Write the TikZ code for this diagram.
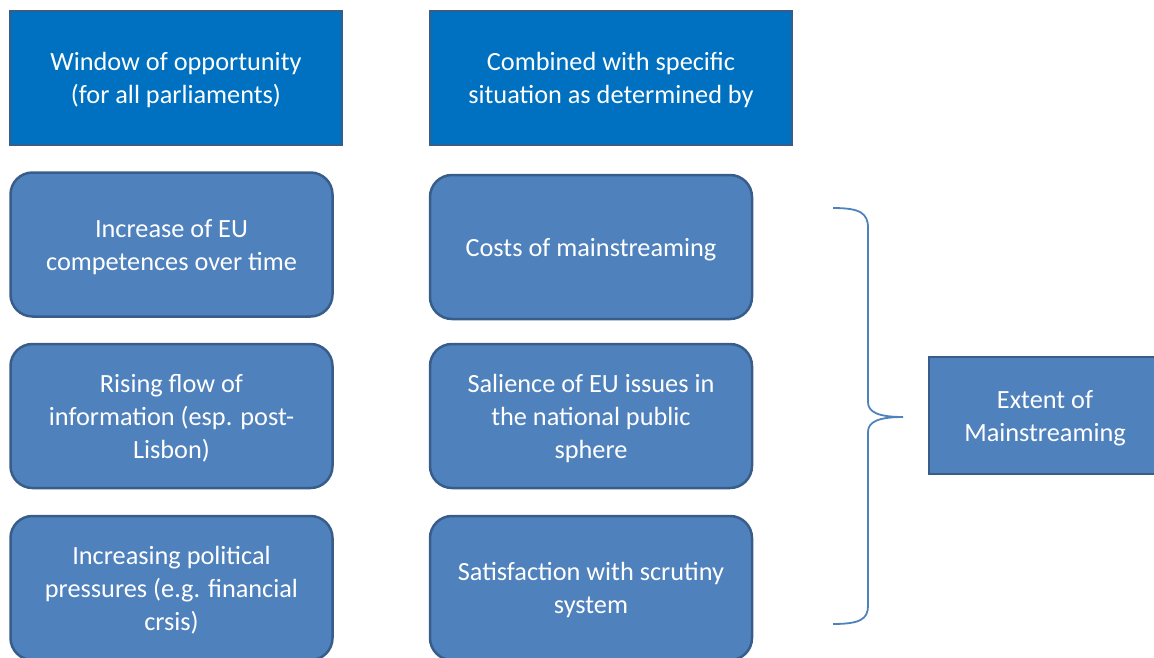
\documentclass[tikz,border=0pt]{standalone}
\usepackage{fontspec}
\setmainfont{Carlito}
\usetikzlibrary{positioning}
\definecolor{headblue}{HTML}{0070C0}
\definecolor{boxblue}{HTML}{4F81BD}
\definecolor{edgeblue}{HTML}{385D8A}

\begin{document}
\begin{tikzpicture}[x=1pt,y=-1pt,
    every node/.style={font=\fontsize{26.3}{33}\selectfont,text=white,
                       align=center,inner sep=0pt,text depth=0pt},
    headbox/.style={draw=edgeblue,line width=2.5pt,fill=headblue,
                    minimum height=134pt},
    factor/.style={draw=edgeblue,line width=2.5pt,fill=boxblue,
                   rounded corners=22pt,minimum width=322pt,minimum height=144pt},
    outcome/.style={draw=edgeblue,line width=2.5pt,fill=boxblue,
                    minimum width=232pt,minimum height=117pt}]
  \useasboundingbox (0,0) rectangle (1154,657);
  \clip (0,0) rectangle (1154,657);

  % column headings
  \node[headbox,minimum width=332pt] (win) at (176,78)
    {Window of opportunity\\(for all parliaments)};
  \node[headbox,minimum width=362pt] (comb) at (611,78)
    {Combined with specific\\situation as determined by};

  % general drivers
  \node[factor] (comp) at (171.5,244.5) {Increase of EU\\competences over time};
  \node[factor] (info) at (171.5,416) {Rising flow of\\information (esp. post-\\Lisbon)};
  \node[factor] (press) at (171.5,588) {Increasing political\\pressures (e.g. financial\\crsis)};

  % country specific conditions
  \node[factor] (cost) at (591,247) {Costs of mainstreaming};
  \node[factor] (sal) at (591,416) {Salience of EU issues in\\the national public\\sphere};
  \node[factor] (sat) at (591,588) {Satisfaction with scrutiny\\system};

  \node[outcome] (ext) at (1045,415.5) {Extent of\\Mainstreaming};

  % brace gathering the conditions
  \coordinate (btop) at (833,208);
  \coordinate (bbot) at (833,624);
  \coordinate (btip) at (903,417);
  \draw[boxblue,line width=1.8pt]
    (btop) .. controls (860,208) and (868,213) .. (868,228) -- (868,402)
    .. controls (868,412) and (878,417) .. (btip)
    .. controls (878,417) and (868,422) .. (868,432) -- (868,606)
    .. controls (868,619) and (860,624) .. (bbot);
\end{tikzpicture}
\end{document}
